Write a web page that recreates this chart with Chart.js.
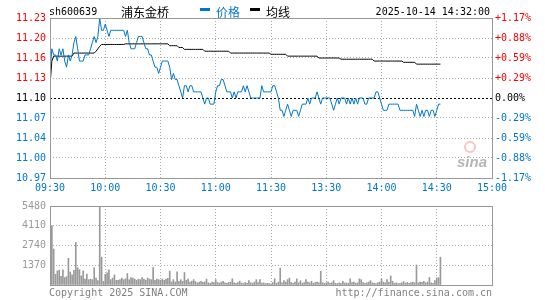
<!DOCTYPE html>
<html>
<head>
<meta charset="utf-8">
<script src="https://cdn.jsdelivr.net/npm/chart.js@4.4.0/dist/chart.umd.min.js"></script>
<style>
  html, body { margin: 0; padding: 0; background: #fff; }
  #wrap { position: relative; width: 545px; height: 300px; overflow: hidden; }
  #priceChart { position: absolute; left: 0; top: 0; }
  #volChart { position: absolute; left: 0; top: 196px; }
</style>
</head>
<body>
<div id="wrap">
  <canvas id="priceChart" width="545" height="200"></canvas>
  <canvas id="volChart" width="545" height="104"></canvas>
</div>
<script>
const timeLabels = ["09:30", "10:00", "10:30", "11:00", "11:30", "13:30", "14:00", "14:30", "15:00"];
const priceLabels = ["11.23", "11.20", "11.16", "11.13", "11.10", "11.07", "11.04", "11.00", "10.97"];
const pctLabels = ["+1.17%", "+0.88%", "+0.59%", "+0.29%", "0.00%", "-0.29%", "-0.59%", "-0.88%", "-1.17%"];
const volLabels = ["5480", "4110", "2740", "1370", ""];
const prevClose = 11.10;
const priceMin = 10.97, priceMax = 11.23;
const volMax = 5480;

// one value per minute from 09:30 (11:30 and 13:00 share a slot), up to 14:32
const price = [
  11.14, 11.18, 11.17, 11.17, 11.16, 11.18, 11.17, 11.18, 11.16, 11.15,
  11.17, 11.16, 11.17, 11.19, 11.20, 11.18, 11.16, 11.16, 11.16, 11.17,
  11.17, 11.17, 11.18, 11.19, 11.20, 11.19, 11.20, 11.23, 11.21, 11.21,
  11.22, 11.21, 11.20, 11.21, 11.21, 11.21, 11.21, 11.21, 11.21, 11.21,
  11.21, 11.20, 11.21, 11.19, 11.18, 11.18, 11.18, 11.19, 11.20, 11.20,
  11.20, 11.19, 11.18, 11.18, 11.17, 11.17, 11.16, 11.15, 11.15, 11.14,
  11.15, 11.16, 11.16, 11.16, 11.16, 11.15, 11.13, 11.14, 11.13, 11.13,
  11.12, 11.11, 11.10, 11.12, 11.12, 11.11, 11.12, 11.12, 11.11, 11.11,
  11.11, 11.11, 11.11, 11.10, 11.09, 11.10, 11.10, 11.09, 11.09, 11.09,
  11.11, 11.12, 11.12, 11.13, 11.13, 11.12, 11.11, 11.11, 11.11, 11.10,
  11.11, 11.10, 11.11, 11.11, 11.11, 11.12, 11.11, 11.12, 11.11, 11.10,
  11.10, 11.10, 11.10, 11.10, 11.10, 11.12, 11.11, 11.11, 11.11, 11.11,
  11.11, 11.12, 11.12, 11.11, 11.10, 11.08, 11.08, 11.07, 11.08, 11.09,
  11.08, 11.07, 11.08, 11.08, 11.08, 11.07, 11.08, 11.09, 11.09, 11.09,
  11.10, 11.09, 11.10, 11.10, 11.10, 11.11, 11.10, 11.09, 11.10, 11.10,
  11.10, 11.10, 11.10, 11.09, 11.08, 11.09, 11.10, 11.09, 11.10, 11.10,
  11.10, 11.09, 11.10, 11.09, 11.10, 11.09, 11.10, 11.09, 11.10, 11.10,
  11.10, 11.09, 11.09, 11.10, 11.10, 11.10, 11.10, 11.11, 11.11, 11.10,
  11.09, 11.08, 11.08, 11.08, 11.09, 11.09, 11.09, 11.09, 11.09, 11.09,
  11.08, 11.08, 11.08, 11.08, 11.08, 11.08, 11.08, 11.08, 11.07, 11.09,
  11.08, 11.07, 11.08, 11.07, 11.08, 11.08, 11.07, 11.08, 11.08, 11.07,
  11.08, 11.09, 11.09
];

const avgPrice = [
  11.120, 11.160, 11.168, 11.168, 11.168, 11.168, 11.168, 11.168, 11.168, 11.168,
  11.168, 11.168, 11.168, 11.173, 11.173, 11.173, 11.173, 11.173, 11.173, 11.173,
  11.173, 11.173, 11.173, 11.173, 11.173, 11.176, 11.180, 11.184, 11.187, 11.187,
  11.187, 11.187, 11.187, 11.187, 11.187, 11.187, 11.187, 11.187, 11.187, 11.187,
  11.187, 11.188, 11.188, 11.188, 11.188, 11.188, 11.188, 11.188, 11.188, 11.188,
  11.188, 11.188, 11.188, 11.188, 11.188, 11.188, 11.188, 11.188, 11.188, 11.188,
  11.188, 11.188, 11.188, 11.188, 11.188, 11.185, 11.185, 11.185, 11.185, 11.185,
  11.182, 11.182, 11.182, 11.179, 11.179, 11.179, 11.179, 11.179, 11.179, 11.179,
  11.179, 11.179, 11.179, 11.179, 11.176, 11.176, 11.176, 11.176, 11.176, 11.176,
  11.176, 11.176, 11.176, 11.176, 11.176, 11.176, 11.176, 11.176, 11.173, 11.173,
  11.173, 11.173, 11.173, 11.173, 11.173, 11.173, 11.173, 11.173, 11.173, 11.173,
  11.173, 11.173, 11.173, 11.173, 11.173, 11.173, 11.173, 11.173, 11.173, 11.173,
  11.171, 11.171, 11.171, 11.171, 11.171, 11.171, 11.171, 11.171, 11.171, 11.168,
  11.168, 11.168, 11.168, 11.168, 11.168, 11.168, 11.168, 11.168, 11.168, 11.168,
  11.168, 11.168, 11.168, 11.168, 11.168, 11.168, 11.165, 11.165, 11.165, 11.165,
  11.165, 11.165, 11.165, 11.165, 11.165, 11.165, 11.165, 11.165, 11.163, 11.163,
  11.163, 11.163, 11.163, 11.163, 11.163, 11.163, 11.163, 11.163, 11.163, 11.163,
  11.163, 11.163, 11.163, 11.163, 11.163, 11.163, 11.160, 11.160, 11.160, 11.160,
  11.160, 11.160, 11.160, 11.160, 11.160, 11.160, 11.160, 11.160, 11.160, 11.160,
  11.160, 11.160, 11.158, 11.158, 11.158, 11.158, 11.158, 11.158, 11.158, 11.155,
  11.155, 11.155, 11.155, 11.155, 11.155, 11.155, 11.155, 11.155, 11.155, 11.155,
  11.155, 11.155, 11.155
];

const volume = [
  800, 4120, 2500, 740, 980, 1020, 600, 1060, 520, 580,
  1850, 900, 700, 1020, 2950, 1200, 1060, 630, 980, 410,
  760, 370, 410, 370, 1200, 480, 300, 5460, 1930, 260,
  740, 850, 1060, 370, 480, 700, 330, 330, 370, 480,
  370, 430, 800, 370, 520, 480, 410, 330, 410, 370,
  520, 410, 330, 480, 410, 370, 1200, 330, 410, 370,
  330, 410, 330, 410, 460, 960, 220, 370, 200, 910,
  260, 370, 260, 870, 330, 410, 200, 260, 370, 240,
  150, 200, 260, 180, 220, 410, 150, 120, 200, 160,
  370, 180, 140, 200, 260, 150, 120, 180, 200, 430,
  150, 120, 160, 260, 140, 100, 180, 120, 300, 150,
  120, 200, 370, 160, 370, 130, 150, 100, 120, 90,
  80, 160, 430, 120, 200, 1170, 150, 300, 200, 370,
  480, 180, 120, 200, 430, 150, 300, 120, 160, 370,
  200, 150, 260, 120, 180, 200, 150, 955, 160, 120,
  150, 200, 120, 160, 300, 120, 100, 150, 120, 260,
  130, 150, 120, 430, 160, 200, 120, 150, 430, 370,
  160, 120, 150, 200, 300, 150, 120, 100, 160, 200,
  430, 200, 150, 370, 180, 630, 260, 120, 150, 100,
  120, 150, 240, 130, 180, 120, 160, 200, 150, 1390,
  150, 200, 180, 260, 150, 200, 520, 150, 120, 300,
  500, 500, 1930
];

const MONO = '"DejaVu Sans Mono", monospace';
const CJK = '"Noto Sans CJK SC", sans-serif';
const BLUE = "#0077cc";
const RED = "#ff0000";
const BORDER = "#999999";
const GRID = "#aaaaaa";

const minutes = timeLabels.length - 1;

function xScale(showLabels) {
  return {
    type: "linear",
    min: 0,
    max: minutes * 30,
    offset: false,
    afterBuildTicks: (s) => { s.ticks = timeLabels.map((_, k) => ({ value: k * 30 })); },
    afterFit: (s) => { s.height = showLabels ? 22 : 0; },
    grid: { color: GRID, lineWidth: 1, drawTicks: false, offset: false },
    border: { display: false, dash: [1, 2] },
    ticks: {
      display: showLabels,
      autoSkip: false,
      maxRotation: 0,
      padding: 4,
      color: BLUE,
      font: { family: MONO, size: 10 },
      callback: (v, i) => timeLabels[i]
    }
  };
}

function evenTicks(min, max, n) {
  return (s) => {
    const out = [];
    for (let k = 0; k < n; k++) out.push({ value: min + k * (max - min) / (n - 1) });
    s.ticks = out;
  };
}

function tickColor(ctx) {
  const fromTop = priceLabels.length - 1 - ctx.index;
  if (fromTop < 4) return RED;
  if (fromTop === 4) return "#000";
  return BLUE;
}

const framePlugin = {
  id: "frame",
  beforeDatasetsDraw(chart, args, opts) {
    const { ctx, chartArea: a } = chart;
    if (opts.zeroLine) {
      const y = Math.round(chart.scales.y.getPixelForValue(prevClose)) + 0.5;
      ctx.save();
      ctx.strokeStyle = "#000";
      ctx.lineWidth = 1;
      ctx.setLineDash([2, 2]);
      ctx.beginPath();
      ctx.moveTo(a.left, y);
      ctx.lineTo(a.right, y);
      ctx.stroke();
      ctx.restore();

      // sina watermark
      ctx.save();
      ctx.strokeStyle = "rgba(240,150,150,0.55)";
      ctx.lineWidth = 2;
      ctx.beginPath();
      ctx.arc(470, 147, 5, 0, Math.PI * 2);
      ctx.stroke();
      ctx.fillStyle = "rgba(150,150,150,0.7)";
      ctx.font = 'italic bold 15px "Liberation Sans", sans-serif';
      ctx.textBaseline = "alphabetic";
      ctx.fillText("sina", 457, 167);
      ctx.restore();
    }
  },
  afterDraw(chart, args, opts) {
    const { ctx, chartArea: a } = chart;
    ctx.save();
    ctx.strokeStyle = BORDER;
    ctx.lineWidth = 1;
    ctx.strokeRect(Math.round(a.left) + 0.5, Math.round(a.top) + 0.5,
      Math.round(a.right) - Math.round(a.left), Math.round(a.bottom) - Math.round(a.top));
    ctx.textBaseline = "middle";
    if (opts.header) {
      ctx.font = "10px " + MONO;
      ctx.fillStyle = "#000";
      ctx.textAlign = "left";
      ctx.fillText("sh600639", 49, 12);
      ctx.font = "12px " + CJK;
      ctx.fillText("浦东金桥", 121, 12);
      ctx.fillStyle = BLUE;
      ctx.fillRect(200, 8, 10, 3);
      ctx.fillText("价格", 216, 12);
      ctx.fillStyle = "#000";
      ctx.fillRect(250, 8, 10, 3);
      ctx.fillText("均线", 266, 12);
      ctx.font = "10px " + MONO;
      ctx.textAlign = "right";
      ctx.fillText("2025-10-14 14:32:00", 490, 12);
    }
    if (opts.footer) {
      ctx.font = "10px " + MONO;
      ctx.fillStyle = "#808080";
      ctx.textAlign = "left";
      ctx.fillText("Copyright 2025 SINA.COM", 49, 97);
      ctx.textAlign = "right";
      ctx.fillText("http://finance.sina.com.cn", 492, 97);
    }
    ctx.restore();
  }
};

new Chart(document.getElementById("priceChart"), {
  type: "line",
  data: {
    datasets: [
      {
        label: "价格",
        data: price.map((p, i) => ({ x: i, y: p })),
        borderColor: BLUE,
        borderWidth: 1,
        pointRadius: 0,
        tension: 0
      },
      {
        label: "均线",
        data: avgPrice.map((p, i) => ({ x: i, y: p })),
        borderColor: "#000",
        borderWidth: 1,
        pointRadius: 0,
        tension: 0
      }
    ]
  },
  options: {
    responsive: false,
    animation: false,
    devicePixelRatio: 1,
    layout: { padding: { top: 18, left: 0, right: 0, bottom: 0 } },
    plugins: {
      legend: { display: false },
      tooltip: { enabled: false },
      frame: { zeroLine: true, header: true }
    },
    scales: {
      x: xScale(true),
      y: {
        type: "linear",
        position: "left",
        min: priceMin,
        max: priceMax,
        afterBuildTicks: evenTicks(priceMin, priceMax, priceLabels.length),
        afterFit: (s) => { s.width = 50; },
        grid: {
          color: (ctx) => (ctx.index === 4 ? "transparent" : GRID),
          drawTicks: false
        },
        border: { display: false, dash: [1, 2] },
        ticks: {
          padding: 4,
          color: tickColor,
          font: { family: MONO, size: 10 },
          callback: (v, i) => priceLabels[priceLabels.length - 1 - i]
        }
      },
      y1: {
        type: "linear",
        position: "right",
        min: priceMin,
        max: priceMax,
        afterBuildTicks: evenTicks(priceMin, priceMax, pctLabels.length),
        afterFit: (s) => { s.width = 53; },
        grid: { display: false, drawTicks: false },
        border: { display: false },
        ticks: {
          padding: 3,
          color: tickColor,
          font: { family: MONO, size: 10 },
          callback: (v, i) => pctLabels[pctLabels.length - 1 - i]
        }
      }
    }
  },
  plugins: [framePlugin]
});

new Chart(document.getElementById("volChart"), {
  type: "bar",
  data: {
    datasets: [{
      label: "成交量",
      data: volume.map((v, i) => ({ x: i, y: v })),
      backgroundColor: "#999999",
      borderWidth: 0,
      barThickness: 1
    }]
  },
  options: {
    responsive: false,
    animation: false,
    devicePixelRatio: 1,
    layout: { padding: { top: 5, left: 0, right: 53, bottom: 15 } },
    plugins: {
      legend: { display: false },
      tooltip: { enabled: false },
      frame: { footer: true }
    },
    scales: {
      x: xScale(false),
      y: {
        type: "linear",
        position: "left",
        min: 0,
        max: volMax,
        afterBuildTicks: evenTicks(0, volMax, volLabels.length),
        afterFit: (s) => { s.width = 50; },
        grid: { color: GRID, drawTicks: false },
        border: { display: false, dash: [1, 2] },
        ticks: {
          padding: 4,
          color: "#999999",
          font: { family: MONO, size: 10 },
          callback: (v, i) => volLabels[volLabels.length - 1 - i]
        }
      }
    }
  },
  plugins: [framePlugin]
});
</script>
</body>
</html>
